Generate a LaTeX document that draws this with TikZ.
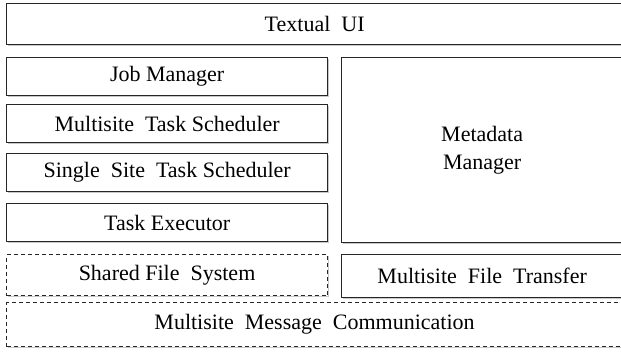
\documentclass[tikz,border=0pt]{standalone}
\usepackage{fontspec}
\setmainfont{Liberation Serif}
\usetikzlibrary{shadows}
\begin{document}
\begin{tikzpicture}[x=1pt,y=-1pt,
  blk/.style={draw=black!85, line width=1.3pt, fill=white, inner sep=0pt,
    drop shadow={shadow xshift=1.5pt, shadow yshift=-1.5pt, opacity=0.35, fill=black!60},
    font=\fontsize{22}{26}\selectfont},
  dblk/.style={blk, dash pattern=on 4pt off 3pt, line width=1.1pt}]
\useasboundingbox (0,0) rectangle (621,352);
\fill[white] (0,0) rectangle (621,352);
\node[blk, minimum width=616pt, minimum height=41pt, anchor=north west] (ui) at (6,3) {Textual\ \ UI};
\node[blk, minimum width=321pt, minimum height=38pt, anchor=north west] (jm) at (6,57) {Job Manager};
\node[blk, minimum width=321pt, minimum height=38pt, anchor=north west] (mts) at (6,104) {Multisite\ \ Task Scheduler};
\node[blk, minimum width=321pt, minimum height=38pt, anchor=north west] (sts) at (6,153) {Single\ \ Site\ \ Task Scheduler};
\node[blk, minimum width=321pt, minimum height=38pt, anchor=north west] (te) at (6,203) {Task Executor};
\node[dblk, minimum width=321pt, minimum height=41pt, anchor=north west] (sfs) at (6,254) {Shared File\ \ System};
\node[blk, minimum width=281pt, minimum height=185pt, anchor=north west, align=center] (mm) at (341,57) {Metadata\\[2pt]Manager};
\node[blk, minimum width=281pt, minimum height=43pt, anchor=north west] (mft) at (341,254) {Multisite\ \ File\ \ Transfer};
\node[dblk, minimum width=616pt, minimum height=44pt, anchor=north west] (mmc) at (6,302) {Multisite\ \ Message\ \ Communication};
\end{tikzpicture}
\end{document}
